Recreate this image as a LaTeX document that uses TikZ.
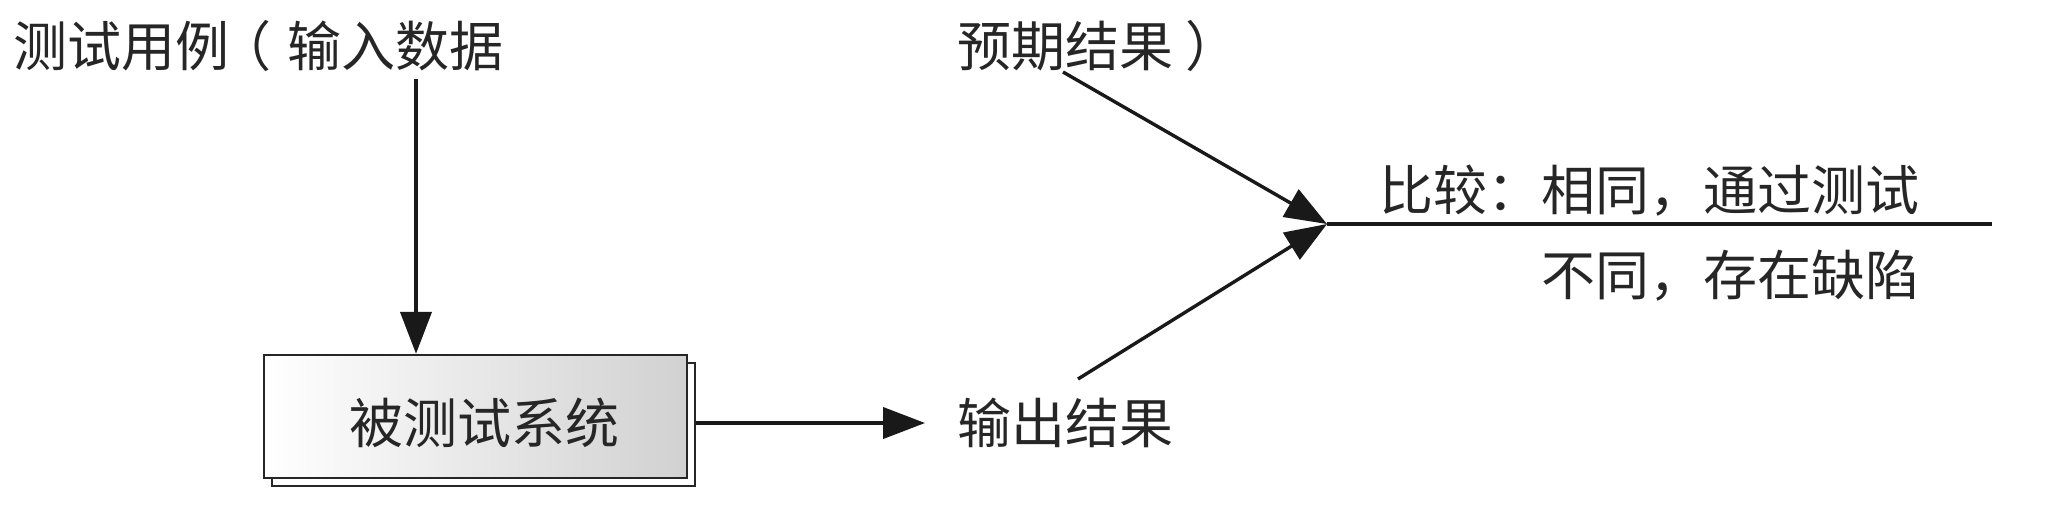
\documentclass[tikz,border=0pt]{standalone}
\usepackage{fontspec}
\setmainfont{Noto Sans CJK SC}
\usetikzlibrary{arrows.meta}
\begin{document}
\begin{tikzpicture}[x=0.25pt,y=-0.25pt,
  lbl/.style={inner sep=0pt,text=black!85,font=\fontsize{13.5pt}{16pt}\selectfont},
  conn/.style={line width=0.85pt,draw=black!90},
  arr/.style={conn,-{Triangle[length=10.5pt,width=7.8pt]}},
  sysbox/.style={draw=black!85,line width=0.6pt,minimum width=105.75pt,minimum height=30.75pt,inner sep=0pt}]
\useasboundingbox (0,0) rectangle (2062,504);
% labels
\node[lbl,anchor=west] (in) at (13,46) {测试用例\hspace{-3pt}（\hspace{4pt}输入数据};
\node[lbl,anchor=west] (exp) at (957,46) {预期结果\hspace{3pt}）};
\node[lbl,anchor=west] (out) at (957,423) {输出结果};
\node[lbl,anchor=east] (cmp) at (1920,191) {比较：相同，通过测试};
\node[lbl,anchor=east] (diff) at (1920,276) {不同，存在缺陷};
% system box with shadow
\node[sysbox,fill=white] (shadow) at (483.5,424.5) {};
\node[sysbox,left color=white,right color=black!18] (sys) at (475.5,416.5) {};
\node[lbl] (systxt) at (484.5,423) {被测试系统};
% coordinates
\coordinate (a1) at (416,79);
\coordinate (e1) at (1063,72);
\coordinate (o1) at (1078,379);
\coordinate (J) at (1327,224);
\coordinate (R) at (1992,224);
\coordinate (b1) at (shadow.east |- systxt);
\coordinate (b2) at (925,423);
% connectors
\draw[arr] (a1) -- (a1 |- sys.north);
\draw[arr] (b1) -- (b2);
\draw[arr] (e1) -- (J);
\draw[arr] (o1) -- (J);
\draw[conn] (J) -- (R);
\end{tikzpicture}
\end{document}
